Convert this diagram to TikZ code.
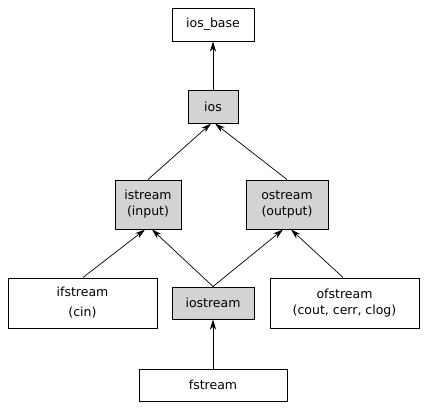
\documentclass[tikz,border=0pt]{standalone}
\usepackage{fontspec}
\setmainfont{DejaVu Sans}
\usetikzlibrary{arrows.meta}
\definecolor{boxgray}{RGB}{211,211,211}
\begin{document}
\begin{tikzpicture}[x=1pt,y=-1pt,
  every node/.style={draw,line width=1pt,align=center,inner sep=0pt,
    font={\fontsize{12.5}{16}\selectfont}},
  plain/.style={fill=white},
  stream/.style={fill=boxgray},
  >={Stealth[length=10pt,width=6pt,inset=3pt]},
  link/.style={->,line width=0.7pt}]
  \useasboundingbox (0,0) rectangle (426,410);
  \node[plain,minimum width=82,minimum height=33] (iosbase) at (213,24.5) {ios\_base};
  \node[stream,minimum width=50,minimum height=33] (ios) at (213,106.5) {ios};
  \node[stream,minimum width=66,minimum height=49] (istream) at (148,204.5) {istream\\(input)};
  \node[stream,minimum width=82,minimum height=49] (ostream) at (287,204.5) {ostream\\(output)};
  \node[plain,minimum width=149,minimum height=50] (ifstream) at (82.5,303) {ifstream\\[4pt](cin)};
  \node[stream,minimum width=82,minimum height=32] (iostream) at (213,303) {iostream};
  \node[plain,minimum width=149,minimum height=50] (ofstream) at (344.5,303) {ofstream\\(cout, cerr, clog)};
  \node[plain,minimum width=148,minimum height=32] (fstream) at (213,385) {fstream};
  \draw[link] (ios) -- (iosbase);
  \draw[link] (istream.north) -- ([xshift=-2]ios.south);
  \draw[link] (ostream.north) -- ([xshift=2]ios.south);
  \draw[link] ([xshift=0.5]ifstream.north) -- ([xshift=-3]istream.south);
  \draw[link] (iostream.north) -- ([xshift=4]istream.south);
  \draw[link] (iostream.north) -- ([xshift=-4]ostream.south);
  \draw[link] ([xshift=-1.5]ofstream.north) -- ([xshift=4]ostream.south);
  \draw[link] (fstream) -- (iostream);
\end{tikzpicture}
\end{document}
